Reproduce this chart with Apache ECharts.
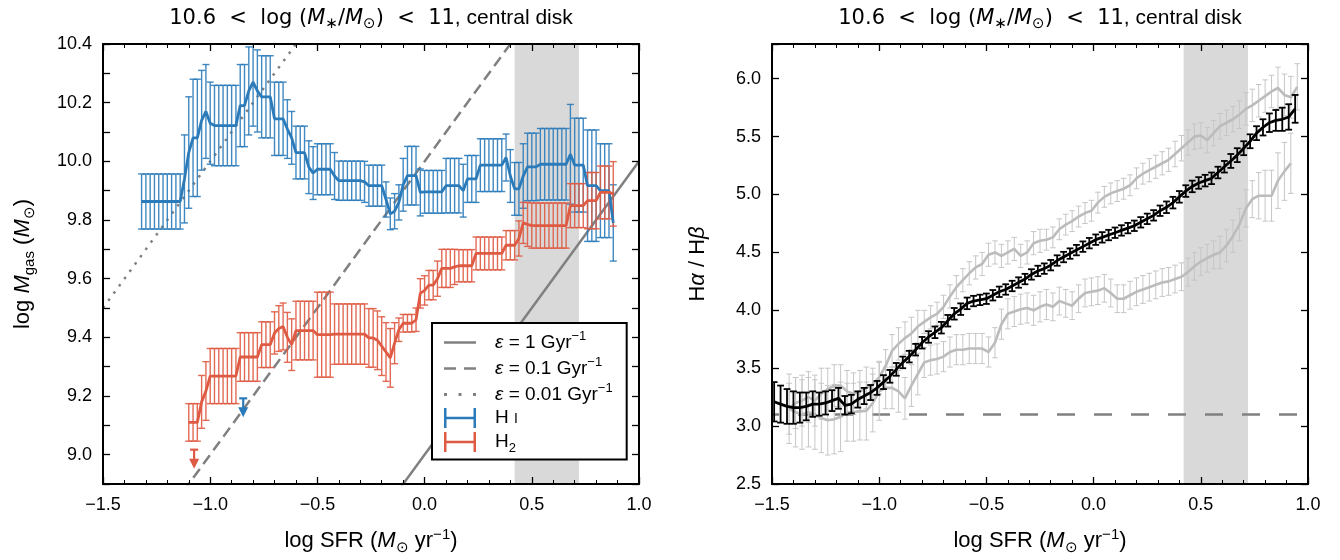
<!DOCTYPE html>
<html><head><meta charset="utf-8">
<script src="https://cdn.jsdelivr.net/npm/echarts@6/dist/echarts.min.js"></script>
<style>html,body{margin:0;padding:0;background:#fff}#c{width:1340px;height:560px}</style>
</head><body><div id="c"></div>
<script>
// ---------------- data: left panel (gas mass vs SFR) ----------------
const GAS_STEP = 0.02;
const HI_X0 = -1.32;
const HI_Y = [9.863,9.863,9.863,9.863,9.863,9.863,9.863,9.863,9.863,9.863,
  9.94,10.03,10.08,10.08,10.14,10.17,10.13,
  10.122,10.122,10.122,10.122,10.122,10.122,
  10.19,10.19,10.24,10.27,10.24,
  10.22,10.22,10.22,
  10.145,10.145,10.145,
  10.11,10.08,
  10.03,10.03,10.03,
  9.98,9.96,
  9.973,9.973,9.973,9.973,
  9.95,
  9.934,9.934,9.934,9.934,9.934,9.934,
  9.93,
  9.917,9.917,9.917,9.917,
  9.87,9.821,9.83,9.86,9.92,
  9.951,9.951,9.951,
  9.894,
  9.896,9.896,9.896,9.896,9.896,
  9.917,9.917,9.917,9.917,
  9.90,
  9.94,9.94,9.94,
  9.987,9.987,9.987,9.987,9.987,9.987,
  10.013,9.95,
  9.906,9.906,
  9.95,
  9.981,9.981,9.981,
  9.99,9.99,9.99,9.99,9.99,9.99,9.99,
  10.024,
  9.987,9.987,9.987,
  9.917,9.917,9.917,
  9.90,9.90,9.90,
  9.79];
const HI_ERR = [0.094,0.094,0.094,0.094,0.094,0.094,0.094,0.094,0.094,0.094,
  0.15,0.19,0.20,0.20,0.17,0.16,0.14,
  0.137,0.137,0.137,0.137,0.137,0.137,
  0.14,0.14,0.15,0.15,0.14,
  0.14,0.14,0.14,
  0.125,0.125,0.125,
  0.10,0.09,
  0.09,0.09,0.09,
  0.09,0.09,
  0.087,0.087,0.087,0.087,
  0.08,
  0.067,0.067,0.067,0.067,0.067,0.067,
  0.07,
  0.07,0.07,0.07,0.07,
  0.06,0.054,0.06,0.06,0.09,
  0.10,0.10,0.10,
  0.08,
  0.073,0.073,0.073,0.073,0.073,
  0.093,0.093,0.093,0.093,
  0.09,
  0.08,0.08,0.08,
  0.09,0.09,0.09,0.09,0.09,0.09,
  0.08,0.09,
  0.09,0.09,
  0.11,
  0.115,0.115,0.115,
  0.122,0.122,0.122,0.122,0.122,0.122,0.122,
  0.17,
  0.16,0.16,0.16,
  0.19,0.19,0.19,
  0.16,0.16,0.16,
  0.13];
const H2_X0 = -1.10;
const H2_Y = [9.11,9.11,9.11,
  9.18,9.217,
  9.268,9.268,9.268,9.268,9.268,9.268,9.268,
  9.333,9.333,9.333,9.333,9.333,
  9.375,9.375,9.375,
  9.415,9.43,9.437,9.40,9.375,
  9.423,9.423,9.423,9.423,9.423,
  9.409,9.409,9.409,9.409,
  9.411,9.411,9.411,9.411,9.411,9.411,9.411,9.411,
  9.398,9.398,
  9.39,9.37,9.35,9.33,9.38,9.426,
  9.448,9.448,9.448,
  9.46,9.55,9.56,
  9.578,9.578,
  9.60,
  9.635,9.635,9.635,
  9.64,
  9.644,9.644,9.644,9.644,
  9.686,9.686,9.686,9.686,9.686,9.686,9.686,
  9.714,9.714,9.714,
  9.737,9.79,9.785,
  9.781,9.781,9.781,9.781,9.781,9.781,9.781,9.781,9.781,
  9.849,9.849,9.849,9.849,
  9.866,9.866,9.866,
  9.894,9.894,9.894,
  9.889];
const H2_ERR = [0.064,0.064,0.064,
  0.09,0.10,
  0.094,0.094,0.094,0.094,0.094,0.094,0.094,
  0.083,0.083,0.083,0.083,0.083,
  0.078,0.078,0.078,
  0.072,0.078,0.08,0.085,0.088,
  0.10,0.10,0.10,0.10,0.10,
  0.145,0.145,0.145,0.145,
  0.103,0.103,0.103,0.103,0.103,0.103,0.103,0.103,
  0.10,0.10,
  0.10,0.10,0.10,0.10,0.07,0.04,
  0.03,0.03,0.03,
  0.04,0.05,0.05,
  0.05,0.05,
  0.06,
  0.065,0.065,0.065,
  0.06,
  0.055,0.055,0.055,0.055,
  0.056,0.056,0.056,0.056,0.056,0.056,0.056,
  0.05,0.05,0.05,
  0.06,0.07,0.075,
  0.077,0.077,0.077,0.077,0.077,0.077,0.077,0.077,0.077,
  0.075,0.075,0.075,0.075,
  0.096,0.096,0.096,
  0.09,0.09,0.09,
  0.11];
const HI_LIMITS = [[-0.846, 9.192]];
const H2_LIMITS = [[-1.075, 9.017]];
const EPS_NAMES = ['1', '0.1', '0.01'];
const EPS_OFFSET = [9, 10, 11];      // log Mgas - log SFR for eps = 1, 0.1, 0.01 Gyr^-1
const EPS_X = [-1.5, 1.0];
const BAND = [0.42, 0.72];

// ---------------- data: right panel (Balmer decrement vs SFR) ----------------
const BD_STEP = 0.03;
const ALL_X0 = -1.49;
const ALL_Y = [3.21,3.19,3.17,3.16,3.16,3.17,3.19,3.19,3.20,3.22,
  3.24,3.18,3.19,3.23,3.26,3.29,3.33,3.38,3.43,3.49,
  3.55,3.60,3.66,3.72,3.77,3.81,3.85,3.91,3.97,4.01,
  4.06,4.08,4.09,4.10,4.13,4.16,4.18,4.21,4.24,4.27,
  4.31,4.34,4.36,4.39,4.43,4.46,4.49,4.52,4.55,4.58,
  4.61,4.63,4.65,4.67,4.69,4.71,4.73,4.76,4.79,4.82,
  4.86,4.89,4.93,4.98,5.03,5.07,5.10,5.12,5.14,5.19,
  5.24,5.29,5.34,5.40,5.46,5.53,5.58,5.62,5.64,5.65,
  5.67,5.74];
const ALL_ERR = [0.17,0.16,0.15,0.14,0.13,0.12,0.11,0.10,0.10,0.09,
  0.09,0.08,0.08,0.07,0.07,0.065,0.06,0.06,0.055,0.055,
  0.05,0.05,0.05,0.05,0.05,0.05,0.05,0.05,0.05,0.05,
  0.05,0.045,0.045,0.045,0.045,0.045,0.045,0.045,0.045,0.045,
  0.045,0.045,0.045,0.045,0.045,0.045,0.045,0.045,0.045,0.045,
  0.045,0.045,0.045,0.045,0.045,0.045,0.045,0.045,0.045,0.045,
  0.045,0.05,0.05,0.05,0.05,0.05,0.05,0.05,0.05,0.05,
  0.05,0.06,0.06,0.06,0.06,0.06,0.07,0.08,0.09,0.10,
  0.11,0.12];
const EDGE_X0 = -1.42;   // i > 60 deg
const EDGE_Y = [3.15,3.20,3.22,3.25,3.22,3.28,3.32,3.35,3.35,3.30,
  3.28,3.30,3.33,3.36,3.42,3.52,3.65,3.71,3.76,3.80,
  3.86,3.90,3.94,3.97,4.03,4.12,4.20,4.26,4.32,4.37,
  4.40,4.48,4.50,4.47,4.50,4.53,4.47,4.50,4.58,4.60,
  4.61,4.63,4.70,4.74,4.77,4.81,4.84,4.86,4.93,4.98,
  5.01,5.03,5.05,5.08,5.14,5.18,5.21,5.24,5.27,5.30,
  5.35,5.40,5.45,5.50,5.51,5.47,5.53,5.59,5.62,5.65,
  5.69,5.74,5.77,5.81,5.85,5.89,5.92,5.86,5.84,5.93];
const EDGE_ERR = [0.22,0.22,0.22,0.22,0.22,0.22,0.18,0.18,0.18,0.18,
  0.18,0.18,0.18,0.14,0.14,0.14,0.14,0.14,0.14,0.14,
  0.14,0.10,0.10,0.10,0.10,0.10,0.10,0.10,0.10,0.10,
  0.10,0.10,0.10,0.10,0.10,0.10,0.10,0.10,0.10,0.10,
  0.09,0.09,0.09,0.09,0.09,0.09,0.09,0.09,0.09,0.09,
  0.09,0.09,0.09,0.09,0.09,0.09,0.10,0.10,0.10,0.10,
  0.11,0.11,0.11,0.11,0.11,0.11,0.11,0.11,0.11,0.11,
  0.12,0.14,0.14,0.14,0.14,0.14,0.18,0.18,0.18,0.20];
const FACE_X0 = -1.42;   // i < 30 deg
const FACE_Y = [3.15,3.12,3.10,3.12,3.10,3.07,3.05,3.06,3.08,3.12,
  3.12,3.13,3.13,3.20,3.30,3.33,3.33,3.30,3.24,3.35,
  3.45,3.55,3.57,3.58,3.60,3.64,3.66,3.66,3.67,3.67,
  3.67,3.64,3.72,3.88,3.97,3.99,4.01,4.02,4.00,4.03,
  4.05,4.03,4.08,4.06,4.04,4.10,4.15,4.16,4.17,4.19,
  4.15,4.10,4.10,4.13,4.16,4.18,4.20,4.22,4.24,4.25,
  4.27,4.29,4.33,4.38,4.42,4.45,4.48,4.50,4.56,4.64,
  4.74,4.88,4.96,4.99,4.99,4.99,5.12,5.20,5.27];
const FACE_ERR = [0.30,0.30,0.30,0.30,0.30,0.30,0.30,0.30,0.30,0.25,
  0.25,0.25,0.25,0.25,0.25,0.18,0.18,0.18,0.18,0.18,
  0.18,0.13,0.13,0.13,0.13,0.13,0.13,0.13,0.13,0.13,
  0.13,0.13,0.13,0.13,0.13,0.13,0.13,0.13,0.13,0.13,
  0.13,0.12,0.12,0.12,0.12,0.12,0.12,0.12,0.12,0.12,
  0.12,0.12,0.12,0.12,0.12,0.12,0.12,0.12,0.12,0.12,
  0.12,0.12,0.12,0.12,0.12,0.12,0.12,0.14,0.14,0.14,
  0.14,0.16,0.16,0.20,0.22,0.22,0.24,0.25,0.26];
const CASE_B = 3.1;
const CASE_B_X = [-1.5, 1.0];
const INCL_LABELS = [['> 60°', 0.25, 5.52], ['< 30°', 0.25, 3.87]];

// ---------------- styling ----------------
const F = "'Liberation Sans', Arial, Helvetica, sans-serif";
const FM = "'DejaVu Sans', 'Liberation Sans', sans-serif";
const BLUE = '#2b7bba', RED = '#df5a43', GREYLINE = '#808080';
const LGREY = '#bcbcbc', LGREY_ERR = '#c6c6c6';

function rich(fs, color) {
  color = color || '#000';
  const sub = Math.round(fs * 0.7);
  return {
    t: {fontSize: fs, fontFamily: F, color: color, lineHeight: fs + 6},
    i: {fontSize: fs, fontFamily: F, color: color, fontStyle: 'italic', lineHeight: fs + 6},
    e: {fontSize: fs, fontFamily: F, color: color, fontStyle: 'italic', lineHeight: fs + 6},
    s: {fontSize: sub, fontFamily: F, color: color, lineHeight: sub + 1, verticalAlign: 'bottom'},
    p: {fontSize: sub, fontFamily: F, color: color, lineHeight: sub + 1, verticalAlign: 'top'},
    sc: {fontSize: Math.round(fs * 0.74), fontFamily: F, color: color, verticalAlign: 'middle', padding: [2, 0, 0, 0]},
    m: {fontSize: fs, fontFamily: FM, color: color, lineHeight: fs + 6},
    mi: {fontSize: fs, fontFamily: FM, color: color, fontStyle: 'italic', lineHeight: fs + 6},
    ms: {fontSize: sub, fontFamily: FM, color: color, lineHeight: sub + 1, verticalAlign: 'bottom'}
  };
}

const build = (x0, step, ys, errs) => ys.map((y, k) => [+(x0 + k * step).toFixed(3), y, errs ? errs[k] : 0]);

function errRender(color, lw, cap, op) {
  return function (params, api) {
    const x = api.value(0), y = api.value(1), e = api.value(2);
    const a = api.coord([x, y + e]), b = api.coord([x, y - e]);
    const st = {stroke: color, lineWidth: lw, opacity: op};
    return {type: 'group', children: [
      {type: 'line', shape: {x1: a[0], y1: a[1], x2: b[0], y2: b[1]}, style: st},
      {type: 'line', shape: {x1: a[0] - cap, y1: a[1], x2: a[0] + cap, y2: a[1]}, style: st},
      {type: 'line', shape: {x1: b[0] - cap, y1: b[1], x2: b[0] + cap, y2: b[1]}, style: st}
    ]};
  };
}
function arrowRender(color) {
  return function (params, api) {
    const p = api.coord([api.value(0), api.value(1)]);
    const st = {stroke: color, lineWidth: 2.2};
    return {type: 'group', children: [
      {type: 'line', shape: {x1: p[0] - 4, y1: p[1], x2: p[0] + 4, y2: p[1]}, style: st},
      {type: 'line', shape: {x1: p[0], y1: p[1], x2: p[0], y2: p[1] + 11}, style: st},
      {type: 'polygon', shape: {points: [[p[0] - 5, p[1] + 9], [p[0] + 5, p[1] + 9], [p[0], p[1] + 19]]}, style: {fill: color}}
    ]};
  };
}

const minus = v => v.toFixed(1).replace('-', '\u2212');
const LBL = {fontSize: 18, fontFamily: F, color: '#000'};
const TITLE = '{m|10.6  <  log (}{mi|M}{ms|\u2217}{m|/}{mi|M}{ms|\u2299}{m|)  <  11}{t|, central disk}';
const XNAME = '{t|log SFR (}{i|M}{s|\u2299}{t| yr}{p|\u22121}{t|)}';

function xAx(grid, pos) {
  const bottom = pos === 'bottom';
  return {
    gridIndex: grid, type: 'value', position: pos, min: -1.5, max: 1.0, interval: 0.5, z: 10,
    axisLine: {show: true, onZero: false, lineStyle: {color: '#000', width: 2}},
    axisTick: {show: true, inside: true, length: 7, lineStyle: {color: '#000', width: 1.3}},
    minorTick: {show: true, splitNumber: 5, length: 4, lineStyle: {color: '#000', width: 1}},
    splitLine: {show: false}, minorSplitLine: {show: false},
    axisLabel: Object.assign({show: bottom, margin: 12, formatter: minus}, LBL),
    name: bottom ? XNAME : TITLE,
    nameLocation: 'middle', nameGap: bottom ? 43 : 12,
    nameTextStyle: {rich: rich(bottom ? 22 : 21)}
  };
}
function yAx(grid, pos, cfg) {
  const left = pos === 'left';
  return Object.assign({
    gridIndex: grid, type: 'value', position: pos, z: 10,
    axisLine: {show: true, onZero: false, lineStyle: {color: '#000', width: 2}},
    axisTick: {show: true, inside: true, length: 7, lineStyle: {color: '#000', width: 1.3}},
    splitLine: {show: false},
    nameLocation: 'middle', nameTextStyle: {rich: rich(22)}
  }, cfg, {
    axisLabel: Object.assign({show: left, margin: 11}, LBL, cfg.axisLabel),
    name: left ? cfg.name : ''
  });
}
const gasY = {min: 8.9, max: 10.4, interval: 0.1,
  axisLabel: {formatter: v => Math.abs(v * 5 - Math.round(v * 5)) < 1e-6 ? v.toFixed(1) : ''},
  name: '{t|log }{i|M}{s|gas}{t| (}{i|M}{s|\u2299}{t|)}', nameGap: 66};
const bdY = {min: 2.5, max: 6.3, interval: 0.5,
  axisLabel: {formatter: v => Math.abs(v * 2 - Math.round(v * 2)) < 1e-6 ? v.toFixed(1) : ''},
  name: '{t|H}{e|\u03b1}{t| / H}{e|\u03b2}', nameGap: 60};

const series = [];
[0, 1].forEach(g => series.push({
  type: 'line', xAxisIndex: g * 2, yAxisIndex: g * 2, data: [], z: 1, silent: true,
  markArea: {silent: true, itemStyle: {color: '#d9d9d9'}, data: [[{xAxis: BAND[0]}, {xAxis: BAND[1]}]]}
}));
const EPS_STYLE = ['solid', [11, 6], [2.5, 6.5]];
EPS_NAMES.forEach((n, k) => series.push({
  name: 'eps' + n, type: 'line', xAxisIndex: 0, yAxisIndex: 0, z: 3, symbol: 'none', silent: true,
  color: GREYLINE,
  data: EPS_X.map(x => [x, x + EPS_OFFSET[k]]),
  lineStyle: {color: GREYLINE, width: 2.5, type: EPS_STYLE[k]}
}));
series.push({type: 'custom', xAxisIndex: 0, yAxisIndex: 0, z: 4, clip: true, silent: true,
  renderItem: errRender(BLUE, 1.4, 3.5, 0.9), data: build(HI_X0, GAS_STEP, HI_Y, HI_ERR)});
series.push({type: 'custom', xAxisIndex: 0, yAxisIndex: 0, z: 4, clip: true, silent: true,
  renderItem: errRender(RED, 1.4, 3.5, 0.9), data: build(H2_X0, GAS_STEP, H2_Y, H2_ERR)});
series.push({name: 'HI', type: 'line', xAxisIndex: 0, yAxisIndex: 0, z: 5, symbol: 'none', color: BLUE,
  lineStyle: {color: BLUE, width: 2.8}, data: build(HI_X0, GAS_STEP, HI_Y)});
series.push({name: 'H2', type: 'line', xAxisIndex: 0, yAxisIndex: 0, z: 5, symbol: 'none', color: RED,
  lineStyle: {color: RED, width: 2.8}, data: build(H2_X0, GAS_STEP, H2_Y)});
series.push({type: 'custom', xAxisIndex: 0, yAxisIndex: 0, z: 5, clip: false, silent: true,
  renderItem: arrowRender(BLUE), data: HI_LIMITS});
series.push({type: 'custom', xAxisIndex: 0, yAxisIndex: 0, z: 5, clip: false, silent: true,
  renderItem: arrowRender(RED), data: H2_LIMITS});

series.push({type: 'line', xAxisIndex: 2, yAxisIndex: 2, z: 2, symbol: 'none', silent: true,
  data: CASE_B_X.map(x => [x, CASE_B]),
  lineStyle: {color: GREYLINE, width: 2.5, type: [18, 19], dashOffset: 11}});
series.push({type: 'custom', xAxisIndex: 2, yAxisIndex: 2, z: 3, clip: true, silent: true,
  renderItem: errRender(LGREY_ERR, 1, 2.8, 1), data: build(EDGE_X0, BD_STEP, EDGE_Y, EDGE_ERR)});
series.push({type: 'custom', xAxisIndex: 2, yAxisIndex: 2, z: 3, clip: true, silent: true,
  renderItem: errRender(LGREY_ERR, 1, 2.8, 1), data: build(FACE_X0, BD_STEP, FACE_Y, FACE_ERR)});
series.push({type: 'line', xAxisIndex: 2, yAxisIndex: 2, z: 4, symbol: 'none', silent: true,
  lineStyle: {color: LGREY, width: 2.6}, data: build(EDGE_X0, BD_STEP, EDGE_Y)});
series.push({type: 'line', xAxisIndex: 2, yAxisIndex: 2, z: 4, symbol: 'none', silent: true,
  lineStyle: {color: LGREY, width: 2.6}, data: build(FACE_X0, BD_STEP, FACE_Y)});
series.push({type: 'custom', xAxisIndex: 2, yAxisIndex: 2, z: 5, clip: true, silent: true,
  renderItem: errRender('#000', 1.8, 3.4, 1), data: build(ALL_X0, BD_STEP, ALL_Y, ALL_ERR)});
series.push({type: 'line', xAxisIndex: 2, yAxisIndex: 2, z: 6, symbol: 'none', silent: true,
  lineStyle: {color: '#000', width: 2.8}, data: build(ALL_X0, BD_STEP, ALL_Y)});
series.push({type: 'scatter', xAxisIndex: 2, yAxisIndex: 2, z: 6, symbolSize: 1, silent: true,
  itemStyle: {opacity: 0},
  label: {show: true, position: 'inside', formatter: p => '{e|i}{t|  ' + p.data[2] + '}', rich: rich(22, '#9a9a9a')},
  data: INCL_LABELS.map(d => [d[1], d[2], d[0]])});

const LEG_TEXT = {
  'eps1': '{e|\u03b5}{t| = 1 Gyr}{p|\u22121}',
  'eps0.1': '{e|\u03b5}{t| = 0.1 Gyr}{p|\u22121}',
  'eps0.01': '{e|\u03b5}{t| = 0.01 Gyr}{p|\u22121}',
  'HI': '{t|H }{sc|I}',
  'H2': '{t|H}{s|2}'
};
const ERRBAR_ICON = 'path://M0,0h2.5v20h-2.5zM0,8.75h32v2.5h-32zM29.5,0h2.5v20h-2.5z';

const option = {
  backgroundColor: '#fff',
  animation: false,
  grid: [
    {left: 103, top: 44, width: 536, height: 443},
    {left: 772, top: 44, width: 536, height: 443}
  ],
  xAxis: [xAx(0, 'bottom'), xAx(0, 'top'), xAx(1, 'bottom'), xAx(1, 'top')],
  yAxis: [yAx(0, 'left', gasY), yAx(0, 'right', gasY), yAx(1, 'left', bdY), yAx(1, 'right', bdY)],
  legend: {
    orient: 'vertical', left: 432, top: 323, z: 20,
    backgroundColor: '#fff', borderColor: '#000', borderWidth: 2, borderRadius: 0,
    padding: [7, 14, 5, 12], itemGap: 4, itemWidth: 32, itemHeight: 20,
    selectedMode: false,
    data: [
      {name: 'eps1', icon: 'path://M0,0h32v2.5h-32z'},
      {name: 'eps0.1', icon: 'path://M0,0h12v2.5h-12zM20,0h12v2.5h-12z'},
      {name: 'eps0.01', icon: 'path://M0,0h3v3h-3zM14.5,0h3v3h-3zM29,0h3v3h-3z'},
      {name: 'HI', icon: ERRBAR_ICON},
      {name: 'H2', icon: ERRBAR_ICON}
    ],
    formatter: n => LEG_TEXT[n],
    textStyle: {padding: [0, 0, 0, 14], rich: rich(19)}
  },
  series: series
};
const chart = echarts.init(document.getElementById('c'), null, {renderer: 'canvas'});
chart.setOption(option);
</script>
</body></html>
